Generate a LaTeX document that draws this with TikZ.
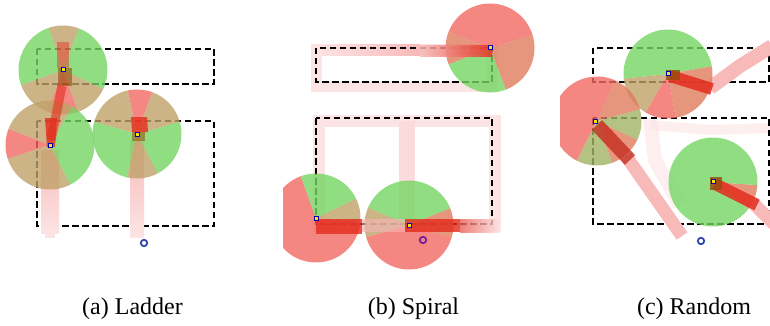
\documentclass[tikz,border=0pt]{standalone}
\usepackage{fontspec}
\setmainfont{Liberation Serif}
\newfontfamily\capfont{Liberation Serif}
\definecolor{gG}{RGB}{118,214,99}
\definecolor{tT}{RGB}{192,161,105}
\definecolor{rR}{RGB}{242,105,99}
\definecolor{sS}{RGB}{224,124,92}
\definecolor{oL}{RGB}{161,180,99}
\definecolor{pinkL}{RGB}{252,228,228}
\definecolor{pinkM}{RGB}{248,185,185}
\definecolor{redT}{RGB}{228,45,30}
\definecolor{brownT}{RGB}{150,75,10}
\definecolor{goalB}{RGB}{50,70,175}
\definecolor{goalP}{RGB}{120,30,150}
\newcommand{\wdg}[5]{\fill[#5, fill opacity=0.8] (#1,#2) -- ++(#3:44.5pt) arc[start angle=#3, end angle=#4, radius=44.5pt] -- cycle;}
\newcommand{\robotmark}[2]{\filldraw[fill=yellow!85!orange, draw=blue!70!black, line width=1pt] (#1-2,#2-2) rectangle (#1+2,#2+2);}
\tikzset{
  dashbox/.style={draw=black, line width=2.1pt, dash pattern=on 6.5pt off 3.5pt},
  captext/.style={font=\capfont\fontsize{24}{28}\selectfont, anchor=base, inner sep=0pt},
  goalmark/.style={line width=1.8pt},
}
\begin{document}
\begin{tikzpicture}[x=1pt,y=-1pt]
\useasboundingbox (0,0) rectangle (770,326);
% ---------------- (a) Ladder ----------------
\begin{scope}
\clip (0,0) rectangle (272,272);
\draw[dashbox] (37,49) rectangle (214,84);
\draw[dashbox] (37,121) rectangle (214,226);
\shade[top color=pinkM, bottom color=pinkL] (41,150) rectangle (59,233);
\fill[pinkL] (45,233) rectangle (55,238);
\shade[top color=pinkM, bottom color=pinkL] (130,140) rectangle (144,237);
\wdg{63}{70}{69}{109}{tT}\wdg{63}{70}{109}{200}{gG}\wdg{63}{70}{200}{250}{tT}
\wdg{63}{70}{250}{290}{rR}\wdg{63}{70}{290}{335}{tT}\wdg{63}{70}{335}{429}{gG}
\wdg{50}{145}{-63}{60}{gG}\wdg{50}{145}{60}{159}{tT}\wdg{50}{145}{159}{198}{rR}\wdg{50}{145}{198}{297}{tT}
\wdg{137}{134}{70}{102}{rR}\wdg{137}{134}{102}{164}{tT}\wdg{137}{134}{164}{257}{gG}
\wdg{137}{134}{257}{298}{tT}\wdg{137}{134}{298}{376}{gG}\wdg{137}{134}{16}{70}{tT}
\fill[redT, opacity=0.45] (57,42) rectangle (69,68);
\fill[brownT, opacity=0.6] (58,68) rectangle (72,86);
\draw[redT, opacity=0.6, line width=9pt] (62,86) -- (51,140);
\fill[redT, opacity=0.8] (45,118) -- (57,118) -- (55,147) -- (47,147) -- cycle;
\fill[redT, opacity=0.8] (131,117) -- (147,117) -- (148,132) -- (132,132) -- cycle;
\fill[brownT, opacity=0.55] (132,132) rectangle (145,141);
\robotmark{63}{70}\robotmark{50}{145}\robotmark{137}{134}
\draw[goalB, goalmark] (144,243) circle (3.2pt);
\end{scope}
% ---------------- (b) Spiral ----------------
\begin{scope}
\clip (283,0) rectangle (550,272);
\draw[pinkL, line width=11pt] (316,50) rectangle (492,87);
\shade[left color=pinkL, right color=pinkM] (316,45) rectangle (420,56);
\draw[dashbox] (316,48) rectangle (492,82);
\draw[pinkL, line width=12pt] (319,121) rectangle (495,226);
\fill[pinkL!80!pinkM] (399,121) rectangle (415,225);
\draw[dashbox] (316,118) rectangle (492,224);
\wdg{490}{48}{17}{159}{rR}\wdg{490}{48}{159}{202}{sS}\wdg{490}{48}{202}{291}{gG}\wdg{490}{48}{291}{377}{sS}
\wdg{316}{218}{110}{355}{rR}\wdg{316}{218}{-5}{26}{tT}\wdg{316}{218}{26}{110}{gG}
\wdg{409}{225}{22}{157}{gG}\wdg{409}{225}{157}{196}{tT}\wdg{409}{225}{196}{343}{rR}\wdg{409}{225}{343}{382}{sS}
\shade[left color=pinkM, right color=redT, opacity=0.85] (420,46) rectangle (492,57);
\fill[redT, opacity=0.8] (316,219) rectangle (362,234);
\fill[pinkM, opacity=0.6] (362,219) rectangle (405,232);
\fill[redT, opacity=0.8] (405,219) rectangle (460,232);
\shade[left color=redT!60!pinkM, right color=pinkL, opacity=0.8] (460,219) rectangle (500,232);
\robotmark{490}{48}\robotmark{316}{218}\robotmark{409}{225}
\draw[goalP, goalmark] (423,240) circle (3.2pt);
\end{scope}
% ---------------- (c) Random ----------------
\begin{scope}
\clip (560,0) rectangle (770,272);
\draw[pinkL, opacity=0.6, line width=14pt] (650,118) -- (655,160) -- (680,205);
\draw[pinkL, opacity=0.6, line width=10pt] (650,125) -- (710,130) -- (770,128);
\draw[dashbox] (593,48) rectangle (769,82);
\draw[dashbox] (593,118) rectangle (769,224);
\draw[pinkM, line width=14pt] (710,88) -- (740,66) -- (772,46);
\draw[pinkM, line width=13pt] (626,156) -- (682,236);
\draw[pinkM, line width=13pt] (752,202) -- (774,224);
\wdg{668}{74}{10}{186}{gG}\wdg{668}{74}{186}{240}{tT}\wdg{668}{74}{240}{280}{rR}\wdg{668}{74}{280}{370}{sS}
\wdg{597}{121}{66}{243}{rR}\wdg{597}{121}{15}{66}{sS}\wdg{597}{121}{243}{290}{oL}\wdg{597}{121}{290}{335}{sS}\wdg{597}{121}{335}{375}{oL}
\wdg{713}{182}{-37}{-4}{sS}\wdg{713}{182}{-4}{323}{gG}
\draw[redT, opacity=0.85, line width=12pt] (670,76) -- (712,89);
\fill[brownT, opacity=0.8] (666,70) rectangle (680,80);
\draw[redT!85!black, opacity=0.75, line width=14pt] (597,125) -- (630,160);
\draw[redT, opacity=0.85, line width=12pt] (715,184) -- (757,205);
\fill[brownT, opacity=0.8] (710,177) rectangle (722,190);
\robotmark{668}{74}\robotmark{595}{121}\robotmark{713}{181}
\draw[goalB, goalmark] (701,241) circle (3.2pt);
\end{scope}
% ---------------- captions ----------------
\node[captext] (capA) at (132.5,314) {(a) Ladder};
\node[captext] (capB) at (413.5,314) {(b) Spiral};
\node[captext] (capC) at (694,314) {(c) Random};
\end{tikzpicture}
\end{document}
